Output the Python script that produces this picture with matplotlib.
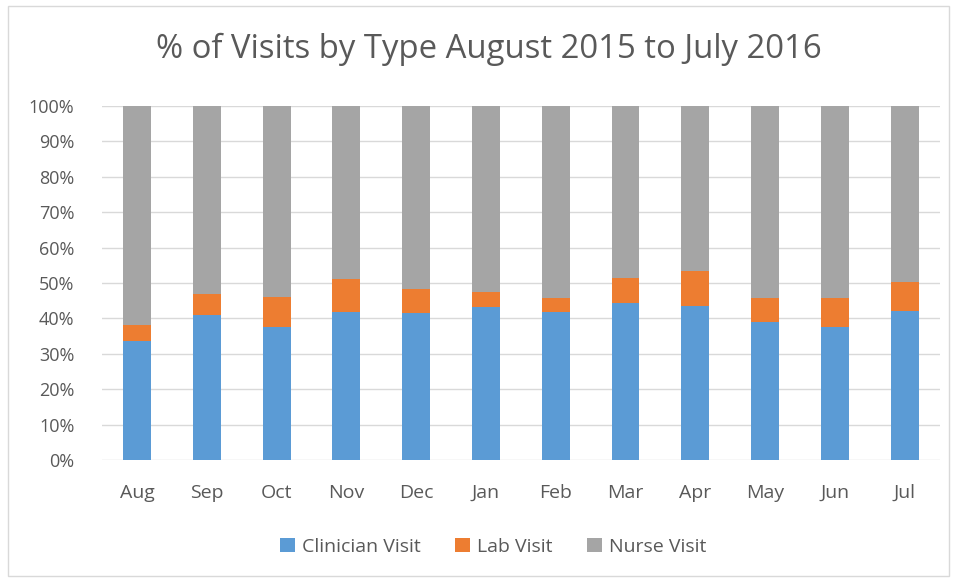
import matplotlib.pyplot as plt
import numpy as np
from matplotlib.ticker import PercentFormatter
from matplotlib.patches import Rectangle

plt.rcParams['font.family'] = ['Open Sans', 'DejaVu Sans']

months = ["Aug", "Sep", "Oct", "Nov", "Dec", "Jan", "Feb", "Mar", "Apr", "May", "Jun", "Jul"]
# shares in percent
clinician = [33.5, 40.9, 37.7, 41.9, 41.4, 43.1, 41.7, 44.3, 43.5, 39.0, 37.6, 42.2]
lab = [4.5, 5.9, 8.4, 9.1, 6.8, 4.3, 4.2, 7.2, 9.8, 6.7, 8.1, 8.0]
nurse = [100 - c - l for c, l in zip(clinician, lab)]

blue, orange, grey = "#5B9BD5", "#ED7D31", "#A5A5A5"
text_col = "#595959"

fig = plt.figure(figsize=(9.56, 5.79), dpi=100)
ax = fig.add_axes([0.1068, 0.2055, 0.876, 0.6115])

x = np.arange(len(months))
w = 0.4
ax.bar(x, clinician, w, color=blue, label="Clinician Visit", zorder=3)
ax.bar(x, lab, w, bottom=clinician, color=orange, label="Lab Visit", zorder=3)
ax.bar(x, nurse, w, bottom=np.add(clinician, lab), color=grey, label="Nurse Visit", zorder=3)

ax.set_xlim(-0.5, len(months) - 0.5)
ax.set_ylim(0, 100)
ax.set_yticks(np.arange(0, 101, 10))
ax.yaxis.set_major_formatter(PercentFormatter(decimals=0))
ax.set_xticks(x)
ax.set_xticklabels(months)
ax.grid(axis="y", color="#D9D9D9", lw=1, zorder=0)
ax.tick_params(length=0, colors=text_col)
ax.tick_params(axis="x", pad=17, labelsize=14)
ax.tick_params(axis="y", pad=20, labelsize=13)
for s in ax.spines.values():
    s.set_visible(False)

fig.text(0.511, 0.914, "% of Visits by Type August 2015 to July 2016",
         ha="center", va="center", fontsize=23.7, color=text_col)

ax.legend(loc="center", bbox_to_anchor=(0.467, -0.246), ncol=3, frameon=False,
          fontsize=14, labelcolor=text_col, handlelength=0.75, handleheight=0.75,
          handletextpad=0.35, columnspacing=1.8)

# light chart border
fig.add_artist(Rectangle((0.008, 0.006), 0.985, 0.984, transform=fig.transFigure,
                         fill=False, edgecolor="#D9D9D9", lw=1))

fig.savefig("out.png", dpi=100)
